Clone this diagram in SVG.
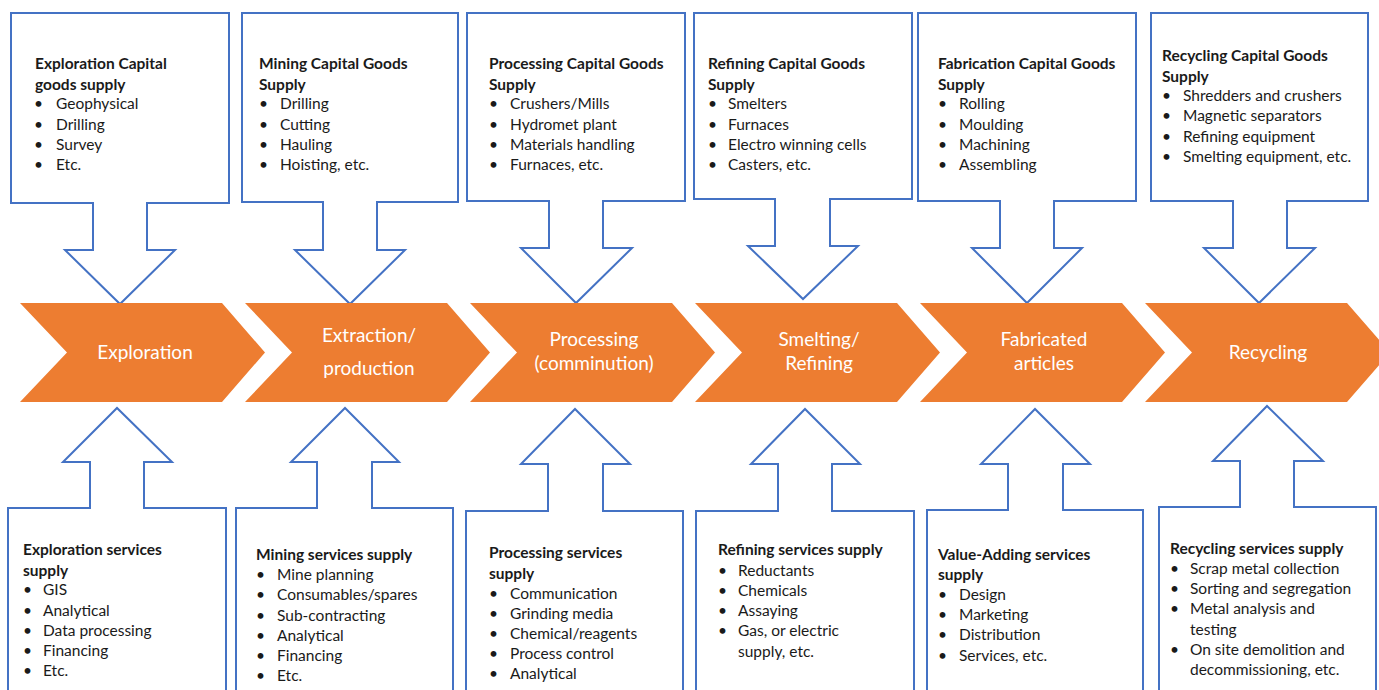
<svg xmlns="http://www.w3.org/2000/svg" width="1379" height="690" viewBox="0 0 1379 690">
  <style>
    .callout { fill: #ffffff; stroke: #4472C4; stroke-width: 2; stroke-linejoin: miter; }
    .stage { fill: #ED7D31; }
    .stage-label { font-family: Lato, "Liberation Sans", sans-serif; font-size: 19px; fill: #ffffff; text-anchor: middle; }
    .head { font-family: Lato, "Liberation Sans", sans-serif; font-size: 15.5px; font-weight: bold; fill: #1a1a1a; }
    .item { font-family: Lato, "Liberation Sans", sans-serif; font-size: 15.5px; fill: #1a1a1a; }
  </style>
  <rect width="1379" height="690" fill="#ffffff"/>

  <!-- capital goods supply callouts (top, arrows pointing down) -->
  <g id="cap-exploration">
    <path class="callout" d="M11,13 H229 V203 H147 V250 H175 L120,304 L65,250 H93 V203 H11 Z"/>
    <text class="head"><tspan x="35" y="69">Exploration Capital</tspan><tspan x="35" y="90">goods supply</tspan></text>
    <text class="item"><tspan x="34" y="109">•</tspan><tspan x="56" y="109">Geophysical</tspan><tspan x="34" y="130">•</tspan><tspan x="56" y="130">Drilling</tspan><tspan x="34" y="150">•</tspan><tspan x="56" y="150">Survey</tspan><tspan x="34" y="170">•</tspan><tspan x="56" y="170">Etc.</tspan></text>
  </g>
  <g id="cap-mining">
    <path class="callout" d="M242,13 H458 V202 H377 V250 H405 L350,304 L295,250 H323 V202 H242 Z"/>
    <text class="head"><tspan x="259" y="69">Mining Capital Goods</tspan><tspan x="259" y="90">Supply</tspan></text>
    <text class="item"><tspan x="259" y="109">•</tspan><tspan x="280" y="109">Drilling</tspan><tspan x="259" y="130">•</tspan><tspan x="280" y="130">Cutting</tspan><tspan x="259" y="150">•</tspan><tspan x="280" y="150">Hauling</tspan><tspan x="259" y="170">•</tspan><tspan x="280" y="170">Hoisting, etc.</tspan></text>
  </g>
  <g id="cap-processing">
    <path class="callout" d="M467,13 H685 V201 H603 V248 H632 L576,303 L521,248 H549 V201 H467 Z"/>
    <text class="head"><tspan x="489" y="69">Processing Capital Goods</tspan><tspan x="489" y="90">Supply</tspan></text>
    <text class="item"><tspan x="489" y="109">•</tspan><tspan x="510" y="109">Crushers/Mills</tspan><tspan x="489" y="130">•</tspan><tspan x="510" y="130">Hydromet plant</tspan><tspan x="489" y="150">•</tspan><tspan x="510" y="150">Materials handling</tspan><tspan x="489" y="170">•</tspan><tspan x="510" y="170">Furnaces, etc.</tspan></text>
  </g>
  <g id="cap-refining">
    <path class="callout" d="M694,13 H912 V199 H830 V246 H858 L803,299 L748,246 H775 V199 H694 Z"/>
    <text class="head"><tspan x="708" y="69">Refining Capital Goods</tspan><tspan x="708" y="90">Supply</tspan></text>
    <text class="item"><tspan x="708" y="109">•</tspan><tspan x="728" y="109">Smelters</tspan><tspan x="708" y="130">•</tspan><tspan x="728" y="130">Furnaces</tspan><tspan x="708" y="150">•</tspan><tspan x="728" y="150">Electro winning cells</tspan><tspan x="708" y="170">•</tspan><tspan x="728" y="170">Casters, etc.</tspan></text>
  </g>
  <g id="cap-fabrication">
    <path class="callout" d="M918,13 H1136 V201 H1054 V248 H1082 L1027,303 L972,248 H1000 V201 H918 Z"/>
    <text class="head"><tspan x="938" y="69">Fabrication Capital Goods</tspan><tspan x="938" y="90">Supply</tspan></text>
    <text class="item"><tspan x="938" y="109">•</tspan><tspan x="959" y="109">Rolling</tspan><tspan x="938" y="130">•</tspan><tspan x="959" y="130">Moulding</tspan><tspan x="938" y="150">•</tspan><tspan x="959" y="150">Machining</tspan><tspan x="938" y="170">•</tspan><tspan x="959" y="170">Assembling</tspan></text>
  </g>
  <g id="cap-recycling">
    <path class="callout" d="M1151,13 H1368 V201 H1287 V248 H1315 L1259,303 L1204,248 H1233 V201 H1151 Z"/>
    <text class="head"><tspan x="1162" y="61">Recycling Capital Goods</tspan><tspan x="1162" y="82">Supply</tspan></text>
    <text class="item"><tspan x="1162" y="101">•</tspan><tspan x="1183" y="101">Shredders and crushers</tspan><tspan x="1162" y="121">•</tspan><tspan x="1183" y="121">Magnetic separators</tspan><tspan x="1162" y="142">•</tspan><tspan x="1183" y="142">Refining equipment</tspan><tspan x="1162" y="162">•</tspan><tspan x="1183" y="162">Smelting equipment, etc.</tspan></text>
  </g>

  <!-- value chain stages -->
  <g id="stage-exploration">
    <polygon class="stage" points="20,303 222,303 265,352.5 222,402 20,402 67,352.5"/>
    <text class="stage-label" x="145" y="359">Exploration</text>
  </g>
  <g id="stage-extraction">
    <polygon class="stage" points="245,303 447,303 490,352.5 447,402 245,402 292,352.5"/>
    <text class="stage-label"><tspan x="369" y="342">Extraction/</tspan><tspan x="369" y="375">production</tspan></text>
  </g>
  <g id="stage-processing">
    <polygon class="stage" points="470,303 672,303 715,352.5 672,402 470,402 517,352.5"/>
    <text class="stage-label"><tspan x="594" y="346">Processing</tspan><tspan x="594" y="370">(comminution)</tspan></text>
  </g>
  <g id="stage-smelting">
    <polygon class="stage" points="695,303 897,303 940,352.5 897,402 695,402 742,352.5"/>
    <text class="stage-label"><tspan x="819" y="346">Smelting/</tspan><tspan x="819" y="370">Refining</tspan></text>
  </g>
  <g id="stage-fabricated">
    <polygon class="stage" points="920,303 1122,303 1165,352.5 1122,402 920,402 967,352.5"/>
    <text class="stage-label"><tspan x="1044" y="346">Fabricated</tspan><tspan x="1044" y="370">articles</tspan></text>
  </g>
  <g id="stage-recycling">
    <polygon class="stage" points="1145,303 1347,303 1390,352.5 1347,402 1145,402 1192,352.5"/>
    <text class="stage-label" x="1268" y="359">Recycling</text>
  </g>

  <!-- services supply callouts (bottom, arrows pointing up) -->
  <g id="svc-exploration">
    <path class="callout" d="M8,700 V508 H90 V462 H63 L117,408 L172,462 H144 V508 H226 V700"/>
    <text class="head"><tspan x="23" y="555">Exploration services</tspan><tspan x="23" y="576">supply</tspan></text>
    <text class="item"><tspan x="23" y="595">•</tspan><tspan x="43" y="595">GIS</tspan><tspan x="23" y="616">•</tspan><tspan x="43" y="616">Analytical</tspan><tspan x="23" y="636">•</tspan><tspan x="43" y="636">Data processing</tspan><tspan x="23" y="656">•</tspan><tspan x="43" y="656">Financing</tspan><tspan x="23" y="676">•</tspan><tspan x="43" y="676">Etc.</tspan></text>
  </g>
  <g id="svc-mining">
    <path class="callout" d="M236,700 V508 H317 V462 H291 L345,408 L399,462 H372 V508 H453 V700"/>
    <text class="head"><tspan x="256" y="560">Mining services supply</tspan></text>
    <text class="item"><tspan x="256" y="580">•</tspan><tspan x="277" y="580">Mine planning</tspan><tspan x="256" y="600">•</tspan><tspan x="277" y="600">Consumables/spares</tspan><tspan x="256" y="621">•</tspan><tspan x="277" y="621">Sub-contracting</tspan><tspan x="256" y="641">•</tspan><tspan x="277" y="641">Analytical</tspan><tspan x="256" y="661">•</tspan><tspan x="277" y="661">Financing</tspan><tspan x="256" y="681">•</tspan><tspan x="277" y="681">Etc.</tspan></text>
  </g>
  <g id="svc-processing">
    <path class="callout" d="M466,700 V511 H548 V464 H521 L575,409 L630,464 H603 V511 H683 V700"/>
    <text class="head"><tspan x="489" y="558">Processing services</tspan><tspan x="489" y="579">supply</tspan></text>
    <text class="item"><tspan x="489" y="599">•</tspan><tspan x="510" y="599">Communication</tspan><tspan x="489" y="619">•</tspan><tspan x="510" y="619">Grinding media</tspan><tspan x="489" y="639">•</tspan><tspan x="510" y="639">Chemical/reagents</tspan><tspan x="489" y="659">•</tspan><tspan x="510" y="659">Process control</tspan><tspan x="489" y="679">•</tspan><tspan x="510" y="679">Analytical</tspan></text>
  </g>
  <g id="svc-refining">
    <path class="callout" d="M696,700 V511 H778 V464 H751 L805,409 L860,464 H832 V511 H914 V700"/>
    <text class="head"><tspan x="718" y="555">Refining services supply</tspan></text>
    <text class="item"><tspan x="718" y="576">•</tspan><tspan x="738" y="576">Reductants</tspan><tspan x="718" y="596">•</tspan><tspan x="738" y="596">Chemicals</tspan><tspan x="718" y="616">•</tspan><tspan x="738" y="616">Assaying</tspan><tspan x="718" y="636">•</tspan><tspan x="738" y="636">Gas, or electric</tspan><tspan x="738" y="657">supply, etc.</tspan></text>
  </g>
  <g id="svc-value-adding">
    <path class="callout" d="M927,700 V510 H1008 V464 H981 L1035,409 L1090,464 H1063 V510 H1143 V700"/>
    <text class="head"><tspan x="938" y="560">Value-Adding services</tspan><tspan x="938" y="580">supply</tspan></text>
    <text class="item"><tspan x="938" y="600">•</tspan><tspan x="959" y="600">Design</tspan><tspan x="938" y="620">•</tspan><tspan x="959" y="620">Marketing</tspan><tspan x="938" y="640">•</tspan><tspan x="959" y="640">Distribution</tspan><tspan x="938" y="661">•</tspan><tspan x="959" y="661">Services, etc.</tspan></text>
  </g>
  <g id="svc-recycling">
    <path class="callout" d="M1159,700 V507 H1240 V461 H1213 L1267,406 L1323,461 H1294 V507 H1376 V700"/>
    <text class="head"><tspan x="1170" y="554">Recycling services supply</tspan></text>
    <text class="item"><tspan x="1170" y="574">•</tspan><tspan x="1190" y="574">Scrap metal collection</tspan><tspan x="1170" y="594">•</tspan><tspan x="1190" y="594">Sorting and segregation</tspan><tspan x="1170" y="614">•</tspan><tspan x="1190" y="614">Metal analysis and</tspan><tspan x="1190" y="635">testing</tspan><tspan x="1170" y="655">•</tspan><tspan x="1190" y="655">On site demolition and</tspan><tspan x="1190" y="675">decommissioning, etc.</tspan></text>
  </g>
</svg>
